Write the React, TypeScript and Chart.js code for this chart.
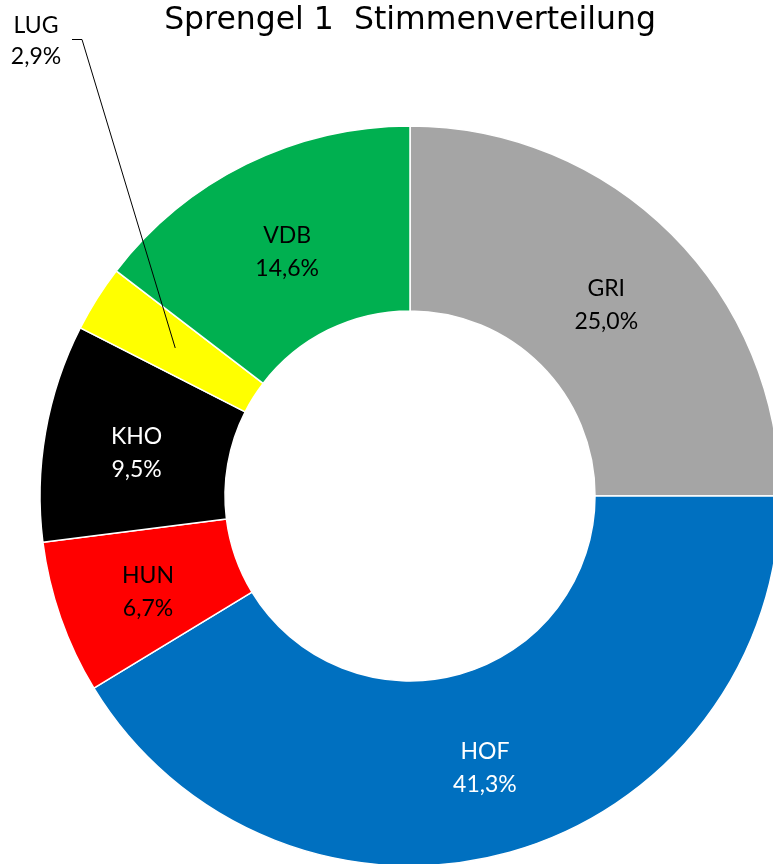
import { useEffect, useRef } from "react";
import { Chart, registerables } from "chart.js";

Chart.register(...registerables);

const titleText = "Sprengel 1  Stimmenverteilung";
const categories = ["GRI", "HOF", "HUN", "KHO", "LUG", "VDB"];
const shares = [25.0, 41.3, 6.7, 9.5, 2.9, 14.6];
const sliceColors = ["#A5A5A5", "#0070C0", "#FF0000", "#000000", "#FFFF00", "#00B050"];
const labelColors = ["#000000", "#FFFFFF", "#000000", "#FFFFFF", "#000000", "#000000"];
const outsideLabels = ["LUG"];

const fmt = (v: number) => v.toFixed(1).replace(".", ",") + "%";

const LABEL_FONT = "23px Lato";

const labelPlugin = {
  id: "sliceLabels",
  afterDatasetsDraw(chart: any) {
    const ctx = chart.ctx as CanvasRenderingContext2D;
    const meta = chart.getDatasetMeta(0);
    ctx.save();
    ctx.font = LABEL_FONT;
    ctx.textAlign = "center";
    ctx.textBaseline = "middle";
    meta.data.forEach((arc: any, i: number) => {
      const { x, y } = arc.tooltipPosition(false);
      const name = categories[i];
      const pct = fmt(shares[i]);
      if (outsideLabels.includes(name)) {
        // external label with leader line, placed at the top-left
        ctx.strokeStyle = "#000000";
        ctx.lineWidth = 1;
        ctx.beginPath();
        ctx.moveTo(72, 39.5);
        ctx.lineTo(82, 39.5);
        ctx.lineTo(x, y);
        ctx.stroke();
        ctx.fillStyle = "#000000";
        ctx.fillText(name, 36, 26);
        ctx.fillText(pct, 36, 57);
      } else {
        ctx.fillStyle = labelColors[i];
        ctx.fillText(name, x, y - 16.5 + 5);
        ctx.fillText(pct, x, y + 16.5 + 5);
      }
    });
    ctx.restore();
  },
};

export default function App() {
  const ref = useRef<HTMLCanvasElement | null>(null);

  useEffect(() => {
    if (!ref.current) return;
    const chart = new Chart(ref.current, {
      type: "doughnut",
      data: {
        labels: categories,
        datasets: [
          {
            data: shares,
            backgroundColor: sliceColors,
            borderColor: "#FFFFFF",
            borderWidth: 1.5,
            hoverOffset: 0,
          } as any,
        ],
      },
      options: {
        responsive: false,
        animation: false,
        devicePixelRatio: 1,
        cutout: "50%",
        radius: 370,
        events: [],
        layout: { padding: 0 },
        plugins: {
          legend: { display: false },
          tooltip: { enabled: false },
          title: {
            display: true,
            text: titleText,
            color: "#000000",
            font: { family: "DejaVu Sans", size: 31.5, weight: "normal", lineHeight: 1.2 },
            padding: { top: 2, bottom: 0 },
          },
        },
      } as any,
      plugins: [labelPlugin],
    });
    return () => chart.destroy();
  }, []);

  return (
    <div
      style={{
        position: "absolute",
        top: 0,
        left: 0,
        width: 773,
        height: 864,
        overflow: "hidden",
        background: "#FFFFFF",
      }}
    >
      <canvas ref={ref} width={820} height={952} style={{ width: 820, height: 952, display: "block" }} />
    </div>
  );
}
